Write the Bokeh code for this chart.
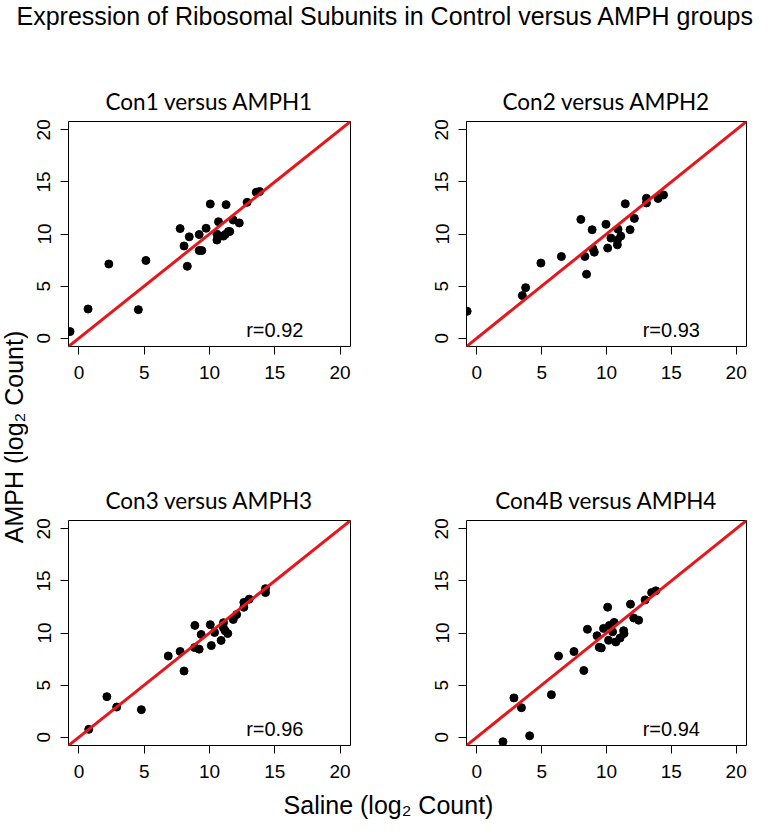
import math
from bokeh.plotting import figure
from bokeh.models import Range1d, FixedTicker, Slope, Label
from bokeh.layouts import column, row
from bokeh.embed import file_html
from bokeh.resources import INLINE

# ---------------- data ----------------
main_title = "Expression of Ribosomal Subunits in Control versus AMPH groups"
x_label = "Saline (log\u2082 Count)"
y_label = "AMPH (log\u2082 Count)"
tick_values = [0, 5, 10, 15, 20]

titles = ["Con1 versus AMPH1", "Con2 versus AMPH2", "Con3 versus AMPH3", "Con4B versus AMPH4"]
r_values = [0.92, 0.93, 0.96, 0.94]

x1 = [-0.68, 0.70, 2.29, 4.55, 5.13, 7.75, 8.05, 8.30, 8.45, 9.21, 9.21, 9.41, 9.74, 10.06,
      10.57, 10.57, 10.69, 11.07, 11.20, 11.27, 11.45, 11.55, 11.82, 12.28, 12.88, 13.58, 13.84]
y1 = [0.63, 2.80, 7.12, 2.74, 7.46, 10.52, 8.85, 6.90, 9.73, 9.95, 8.41, 8.41, 10.55, 12.88,
      9.98, 9.42, 11.18, 9.80, 9.95, 12.82, 10.23, 10.24, 11.34, 11.06, 13.04, 14.01, 14.08]

x2 = [-0.75, 3.51, 3.76, 4.94, 6.52, 8.02, 8.33, 8.46, 8.89, 8.96, 9.06, 9.96, 10.09, 10.34,
      10.84, 10.84, 10.89, 11.10, 11.45, 11.82, 12.15, 13.08, 13.08, 13.98, 14.40]
y2 = [2.58, 4.09, 4.85, 7.21, 7.84, 11.40, 7.84, 6.14, 10.41, 8.57, 8.25, 10.93, 8.65, 9.61,
      9.40, 8.96, 10.46, 9.80, 12.90, 10.42, 11.50, 13.43, 12.98, 13.41, 13.75]

x3 = [0.75, 2.14, 2.89, 4.78, 6.84, 7.75, 8.05, 8.88, 8.86, 9.21, 9.36, 10.06, 10.14, 10.39,
      10.89, 11.07, 11.07, 11.20, 11.40, 11.82, 12.08, 12.63, 12.63, 13.04, 14.29, 14.29]
y3 = [0.75, 3.89, 2.89, 2.64, 7.79, 8.23, 6.35, 10.73, 8.60, 8.45, 9.86, 10.80, 8.79, 10.05,
      9.29, 10.99, 10.49, 10.21, 9.95, 11.30, 11.77, 12.94, 12.47, 13.25, 14.26, 13.88]

x4 = [2.01, 2.86, 3.44, 4.07, 5.75, 6.30, 7.49, 8.25, 8.53, 9.27, 9.44, 9.60, 9.77, 10.09,
      10.16, 10.22, 10.47, 10.59, 10.72, 11.05, 11.32, 11.35, 11.85, 12.10, 12.48, 12.98, 13.48, 13.80]
y4 = [-0.44, 3.77, 2.83, 0.13, 4.08, 7.79, 8.22, 6.40, 10.36, 9.74, 8.63, 8.57, 10.44, 12.48,
      9.30, 10.73, 10.11, 11.02, 9.14, 9.52, 10.22, 9.95, 12.77, 11.44, 11.23, 13.18, 13.88, 14.05]

# ---------------- styling / layout ----------------
ARIAL = "Liberation Sans"
RED = "#e8161b"
TOTAL_W = 758
TITLE_H = 45
YLAB_W = 28
XLAB_H = 39
FRAME_H = 225

TOP_MBT, TOP_MBB = 76, 60
BOT_MBT, BOT_MBB = 114, 35


def panel(xs, ys, title, r, fw, mbl, mbr, mbt, mbb):
    p = figure(frame_width=fw, frame_height=FRAME_H,
               x_range=Range1d(-0.8, 20.8), y_range=Range1d(-0.8, 20.8),
               output_backend="svg", toolbar_location=None,
               min_border_left=mbl, min_border_right=mbr,
               min_border_top=mbt, min_border_bottom=mbb)
    p.title.text = title
    p.title.text_font = "Lato"
    p.title.text_font_size = "22.5px"
    p.title.text_font_style = "normal"
    p.title.align = "center"
    p.title.standoff = 13
    p.title.text_color = "black"
    p.grid.visible = False
    p.outline_line_color = "black"
    p.outline_line_width = 1
    p.outline_line_alpha = 1
    p.background_fill_color = "white"
    p.border_fill_color = "white"
    for ax in (p.xaxis[0], p.yaxis[0]):
        ax.ticker = FixedTicker(ticks=tick_values)
        ax.bounds = (0, 20)
        ax.axis_line_color = "black"
        ax.axis_line_width = 1
        ax.major_tick_line_color = "black"
        ax.major_tick_out = 8
        ax.major_tick_in = 0
        ax.minor_tick_out = 0
        ax.minor_tick_in = 0
        ax.minor_tick_line_color = None
        ax.major_label_text_font = ARIAL
        ax.major_label_text_font_size = "19px"
        ax.major_label_text_color = "black"
    p.xaxis[0].major_label_standoff = 11
    p.yaxis[0].major_label_standoff = 10
    p.yaxis[0].major_label_orientation = "vertical"
    p.scatter(xs, ys, size=8, color="black", marker="circle")
    p.add_layout(Slope(gradient=1, y_intercept=0, line_color=RED, line_width=3))
    p.add_layout(Label(x=15, y=0.8, text=f"r={r:.2f}", text_font=ARIAL,
                       text_font_size="20px", text_align="center",
                       text_baseline="middle", text_color="black"))
    return p


p1 = panel(x1, y1, titles[0], r_values[0], 282, 40, 20, TOP_MBT, TOP_MBB)
p2 = panel(x2, y2, titles[1], r_values[1], 280, 96, 12, TOP_MBT, TOP_MBB)
p3 = panel(x3, y3, titles[2], r_values[2], 282, 40, 20, BOT_MBT, BOT_MBB)
p4 = panel(x4, y4, titles[3], r_values[3], 280, 96, 12, BOT_MBT, BOT_MBB)


def blank(w, h):
    f = figure(width=w, height=h, output_backend="svg", toolbar_location=None,
               x_range=Range1d(0, w), y_range=Range1d(0, h),
               min_border=0, title=None, x_axis_location=None, y_axis_location=None)
    f.grid.visible = False
    f.outline_line_color = None
    return f


grid_h = TOP_MBT + FRAME_H + TOP_MBB + BOT_MBT + FRAME_H + BOT_MBB

tfig = blank(TOTAL_W, TITLE_H)
tfig.add_layout(Label(x=16, y=TITLE_H - 15.5, x_units="screen", y_units="screen",
                      text=main_title, text_font=ARIAL, text_font_size="25px",
                      text_align="left", text_baseline="middle", text_color="black"))

yfig = blank(YLAB_W, grid_h)
yfig.add_layout(Label(x=13.5, y=grid_h - (436.5 - TITLE_H), x_units="screen", y_units="screen",
                      angle=math.pi / 2, text=y_label, text_font=ARIAL, text_font_size="25px",
                      text_align="center", text_baseline="middle", text_color="black"))

xfig = blank(TOTAL_W, XLAB_H)
xfig.add_layout(Label(x=388, y=15, x_units="screen", y_units="screen",
                      text=x_label, text_font=ARIAL, text_font_size="25px",
                      text_align="center", text_baseline="middle", text_color="black"))

layout = column(tfig,
                row(yfig, column(row(p1, p2), row(p3, p4))),
                xfig)

open("out.html", "w").write(file_html(layout, INLINE))
